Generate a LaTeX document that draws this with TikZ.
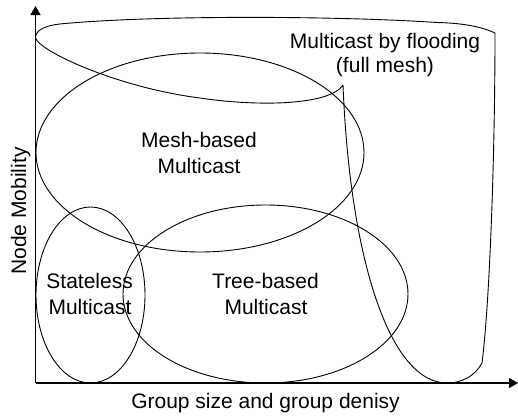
\documentclass[tikz,border=0pt]{standalone}
\usepackage{fontspec}
\setmainfont{Liberation Sans}
\usetikzlibrary{arrows.meta}
\begin{document}
\begin{tikzpicture}[x=1pt,y=-1pt,
  lbl/.style={inner sep=0pt, anchor=base, font=\fontsize{21}{25}\selectfont},
  curve/.style={line width=0.9pt},
  axis/.style={line width=1.2pt, -{Triangle[length=9pt,width=10pt]}}]
\useasboundingbox (0,0) rectangle (518,415);
\coordinate (O) at (35.5,383);
\coordinate (ytip) at (35.5,6);
\coordinate (xtip) at (518,383);
% flooding region
\draw[curve] (343,85) .. controls (350,260) and (390,383) .. (447,383)
  .. controls (462,383) and (475,376) .. (482,363)
  .. controls (490,300) and (495,150) .. (495,33)
  .. controls (480,26) and (460,23) .. (437,22.5)
  .. controls (340,16) and (160,15) .. (65,23.5)
  .. controls (45,25) and (35.5,30) .. (35.5,38)
  .. controls (40,52) and (120,88) .. (200,98)
  .. controls (260,107) and (330,105) .. (343,85);
% ellipses
\draw[curve] (200,152.5) ellipse [x radius=164, y radius=99.5];
\draw[curve] (90.5,295) ellipse [x radius=54.5, y radius=88];
\draw[curve] (265.5,294) ellipse [x radius=142.5, y radius=89];
% axes
\draw[axis] (O) -- (ytip);
\draw[axis] (O) -- (xtip);
% labels
\node[lbl] (flood1) at (385,48) {Multicast by flooding};
\node[lbl] (flood2) at (385,72) {(full mesh)};
\node[lbl] (mesh1) at (199,147) {Mesh-based};
\node[lbl] (mesh2) at (199,173) {Multicast};
\node[lbl] (state1) at (89.6,288) {Stateless};
\node[lbl] (state2) at (90,314) {Multicast};
\node[lbl] (tree1) at (265.5,288) {Tree-based};
\node[lbl] (tree2) at (266,314) {Multicast};
\node[lbl] (xlab) at (265.5,408) {Group size and group denisy};
\node[lbl, rotate=90] (ylab) at (26,211) {Node Mobility};
\end{tikzpicture}
\end{document}
